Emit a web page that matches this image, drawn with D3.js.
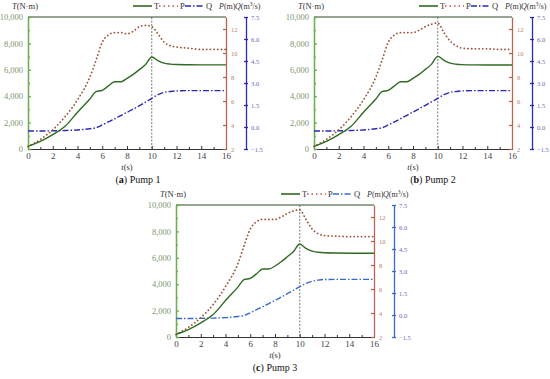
<!DOCTYPE html>
<html>
<head>
<meta charset="utf-8">
<script src="https://cdn.jsdelivr.net/npm/d3@7"></script>
<style>
  body { margin: 0; background: #fff; }
  svg text { font-family: "Liberation Serif", "Times New Roman", "DejaVu Serif", serif !important; }
</style>
</head>
<body>
<script>
// time points (s)
const times = [0, 1, 2, 3, 4, 5, 5.5, 6, 6.5, 7, 7.5, 8, 8.5, 9, 9.5, 10, 10.5, 11, 11.5, 12, 13, 14, 15, 16];

// torque T (N·m)
const torque1 = [200, 580, 1090, 1720, 2780, 3790, 4340, 4440, 4780, 5100, 5100, 5350, 5650, 6010, 6400, 6970, 6700, 6500, 6430, 6400, 6380, 6370, 6370, 6370];
const torque2 = [200, 580, 1090, 1720, 2780, 3790, 4340, 4440, 4780, 5100, 5100, 5350, 5650, 6030, 6430, 7020, 6720, 6500, 6420, 6390, 6370, 6360, 6360, 6360];
const torque3 = [200, 560, 1070, 1700, 2760, 3780, 4340, 4440, 4780, 5150, 5150, 5380, 5700, 6080, 6480, 7040, 6720, 6500, 6420, 6380, 6360, 6350, 6350, 6340];

// head P (m)
const head1 = [2.2, 2.8, 3.6, 4.7, 6.1, 8.0, 9.4, 10.9, 11.5, 11.7, 11.7, 11.6, 11.8, 12.2, 12.3, 12.2, 11.6, 10.9, 10.6, 10.5, 10.4, 10.3, 10.3, 10.3];
const head2 = [2.2, 2.8, 3.6, 4.7, 6.1, 8.0, 9.4, 10.9, 11.5, 11.7, 11.7, 11.7, 11.9, 12.2, 12.4, 12.5, 11.7, 11.0, 10.6, 10.4, 10.35, 10.35, 10.3, 10.3];
const head3 = [2.2, 2.8, 3.6, 4.7, 6.2, 8.1, 9.6, 11.0, 11.6, 11.8, 11.8, 11.8, 12.0, 12.3, 12.5, 12.6, 11.8, 11.0, 10.6, 10.45, 10.4, 10.37, 10.37, 10.37];

// flow Q (m³/s)
const flow1 = [-0.27, -0.27, -0.26, -0.24, -0.2, -0.12, -0.05, 0.14, 0.35, 0.55, 0.78, 1.0, 1.22, 1.45, 1.7, 1.95, 2.2, 2.36, 2.42, 2.46, 2.48, 2.48, 2.48, 2.48];
const flow2 = [-0.27, -0.27, -0.26, -0.24, -0.2, -0.12, -0.05, 0.14, 0.35, 0.57, 0.8, 1.02, 1.25, 1.48, 1.72, 1.95, 2.2, 2.36, 2.42, 2.46, 2.48, 2.48, 2.48, 2.48];
const flow3 = [-0.24, -0.24, -0.23, -0.21, -0.18, -0.1, -0.03, 0.15, 0.36, 0.56, 0.78, 1.0, 1.22, 1.45, 1.7, 1.93, 2.15, 2.3, 2.38, 2.42, 2.43, 2.43, 2.43, 2.43];

// tick labels
const xTicks = [0, 2, 4, 6, 8, 10, 12, 14, 16];
const tTicks = [0, 2000, 4000, 6000, 8000, 10000];
const pTicks = [2, 4, 6, 8, 10, 12];
const qTicks = [-1.5, 0, 1.5, 3, 4.5, 6, 7.5];

const W = 198, H = 132;
const serif = "'Liberation Serif', 'Times New Roman', 'DejaVu Serif', serif";

const svg = d3.select("body").append("svg")
    .attr("width", 550)
    .attr("height", 379)
    .attr("font-family", serif);

const x = d3.scaleLinear().domain([0, 16]).range([0, W]);
const yT = d3.scaleLinear().domain([0, 10000]).range([H, 0]);
const yP = d3.scaleLinear().domain([2, 13]).range([H, 0]);
const yQ = d3.scaleLinear().domain([-1.5, 7.5]).range([H, 0]);

const green = "#2f6b22";

function drawPanel(ox, oy, letter, name, capX, capY, T, P, Q, qColor) {
    const g = svg.append("g").attr("transform", "translate(" + ox + "," + oy + ")");

    // top border
    g.append("line").attr("x1", 0).attr("x2", W).attr("y1", 0).attr("y2", 0)
        .attr("stroke", "#2d4d24").attr("stroke-width", 1.2);

    // bottom axis
    const xa = g.append("g").attr("transform", "translate(0," + H + ")")
        .call(d3.axisBottom(x).tickValues(xTicks).tickSizeInner(-3).tickSizeOuter(0).tickPadding(4));
    xa.append("g").call(d3.axisBottom(x).tickValues(d3.range(1, 16, 2)).tickSize(-2).tickFormat(""));
    xa.selectAll("path, line").attr("stroke", "#333");
    xa.selectAll("text").attr("fill", "#444").style("font-size", "9px");

    // left axis T
    const la = g.append("g")
        .call(d3.axisLeft(yT).tickValues(tTicks).tickSizeInner(-3).tickSizeOuter(0).tickPadding(5).tickFormat(d3.format(",")));
    la.append("g").call(d3.axisLeft(yT).tickValues(d3.range(1000, 10000, 2000)).tickSize(-2).tickFormat(""));
    la.selectAll("path, line").attr("stroke", "#6fae4f").attr("stroke-width", 1.3);
    la.selectAll("text").attr("fill", "#7c9670").style("font-size", "8.5px");

    // right axis P
    const pa = g.append("g").attr("transform", "translate(" + W + ",0)")
        .call(d3.axisRight(yP).tickValues(pTicks).tickSizeInner(-3).tickSizeOuter(0).tickPadding(5));
    pa.selectAll("path, line").attr("stroke", "#b8644f").attr("stroke-width", 1.3);
    pa.selectAll("text").attr("fill", "#c07a6a").style("font-size", "6.5px");

    // right axis Q
    const qa = g.append("g").attr("transform", "translate(" + (W + 20) + ",0)")
        .call(d3.axisRight(yQ).tickValues(qTicks).tickSize(2).tickSizeOuter(0).tickPadding(3).tickFormat(d3.format(".1f")));
    qa.selectAll(".tick line").attr("x1", -2);
    qa.selectAll("path, line").attr("stroke", qColor).attr("stroke-width", 1.3);
    qa.selectAll("text").attr("fill", "#6a6ab8").style("font-size", "6.5px");

    // vertical marker at t = 10 s
    g.append("line").attr("x1", x(10)).attr("x2", x(10)).attr("y1", 0).attr("y2", H)
        .attr("stroke", "#555").attr("stroke-width", 0.8).attr("stroke-dasharray", "2,1.5");

    const lineT = d3.line().x((d, i) => x(times[i])).y(d => yT(d)).curve(d3.curveMonotoneX);
    const lineP = d3.line().x((d, i) => x(times[i])).y(d => yP(d)).curve(d3.curveMonotoneX);
    const lineQ = d3.line().x((d, i) => x(times[i])).y(d => yQ(d)).curve(d3.curveMonotoneX);

    g.append("path").attr("d", lineQ(Q)).attr("fill", "none").attr("stroke", qColor)
        .attr("stroke-width", 1.4).attr("stroke-dasharray", "6,2,1.5,2");
    g.append("path").attr("d", lineP(P)).attr("fill", "none").attr("stroke", "#a0553a")
        .attr("stroke-width", 1.8).attr("stroke-linecap", "round").attr("stroke-dasharray", "0.1,3.6");
    g.append("path").attr("d", lineT(T)).attr("fill", "none").attr("stroke", green)
        .attr("stroke-width", 1.4);

    // axis titles
    const tt = g.append("text").attr("x", -16).attr("y", -8).style("font-size", "8.5px").attr("fill", "#333");
    tt.append("tspan").style("font-style", "italic").text("T");
    tt.append("tspan").text("(N·m)");

    const xt = g.append("text").attr("x", W / 2).attr("y", H + 21).attr("text-anchor", "middle")
        .style("font-size", "8.5px").attr("fill", "#333");
    xt.append("tspan").style("font-style", "italic").text("t");
    xt.append("tspan").text("(s)");

    const pt = g.append("text").attr("x", 191).attr("y", -8).style("font-size", "8px").attr("fill", "#333");
    pt.append("tspan").style("font-style", "italic").text("P");
    pt.append("tspan").text("(m)");
    const qt = g.append("text").attr("x", 207).attr("y", -8).style("font-size", "8px").attr("fill", "#333");
    qt.append("tspan").style("font-style", "italic").text("Q");
    qt.append("tspan").text("(m");
    qt.append("tspan").attr("dy", -3).style("font-size", "5.5px").text("3");
    qt.append("tspan").attr("dy", 3).text("/s)");

    // legend
    const leg = [
        { label: "T", color: green, dash: null, x1: 105 },
        { label: "P", color: "#c0504d", dash: "1.5,3", x1: 131 },
        { label: "Q", color: qColor, dash: "6,2,1.5,2", x1: 157 }
    ];
    leg.forEach(function (d) {
        g.append("line").attr("x1", d.x1).attr("x2", d.x1 + 19).attr("y1", -11).attr("y2", -11)
            .attr("stroke", d.color).attr("stroke-width", 1.6)
            .attr("stroke-dasharray", d.dash);
        g.append("text").attr("x", d.x1 + 21).attr("y", -8).style("font-size", "8.5px")
            .attr("fill", "#333").text(d.label);
    });

    // caption
    const cap = svg.append("text").attr("x", capX).attr("y", capY).attr("text-anchor", "middle")
        .style("font-size", "10px").attr("fill", "#111");
    cap.append("tspan").text("(");
    cap.append("tspan").style("font-weight", "bold").text(letter);
    cap.append("tspan").text(") " + name);
}

drawPanel(28, 17, "a", "Pump 1", 138, 183, torque1, head1, flow1, "#2a2ab8");
drawPanel(314, 17, "b", "Pump 2", 433, 183, torque2, head2, flow2, "#2a2ab8");
drawPanel(176, 205, "c", "Pump 3", 275, 371, torque3, head3, flow3, "#3a6ad0");
</script>
</body>
</html>
